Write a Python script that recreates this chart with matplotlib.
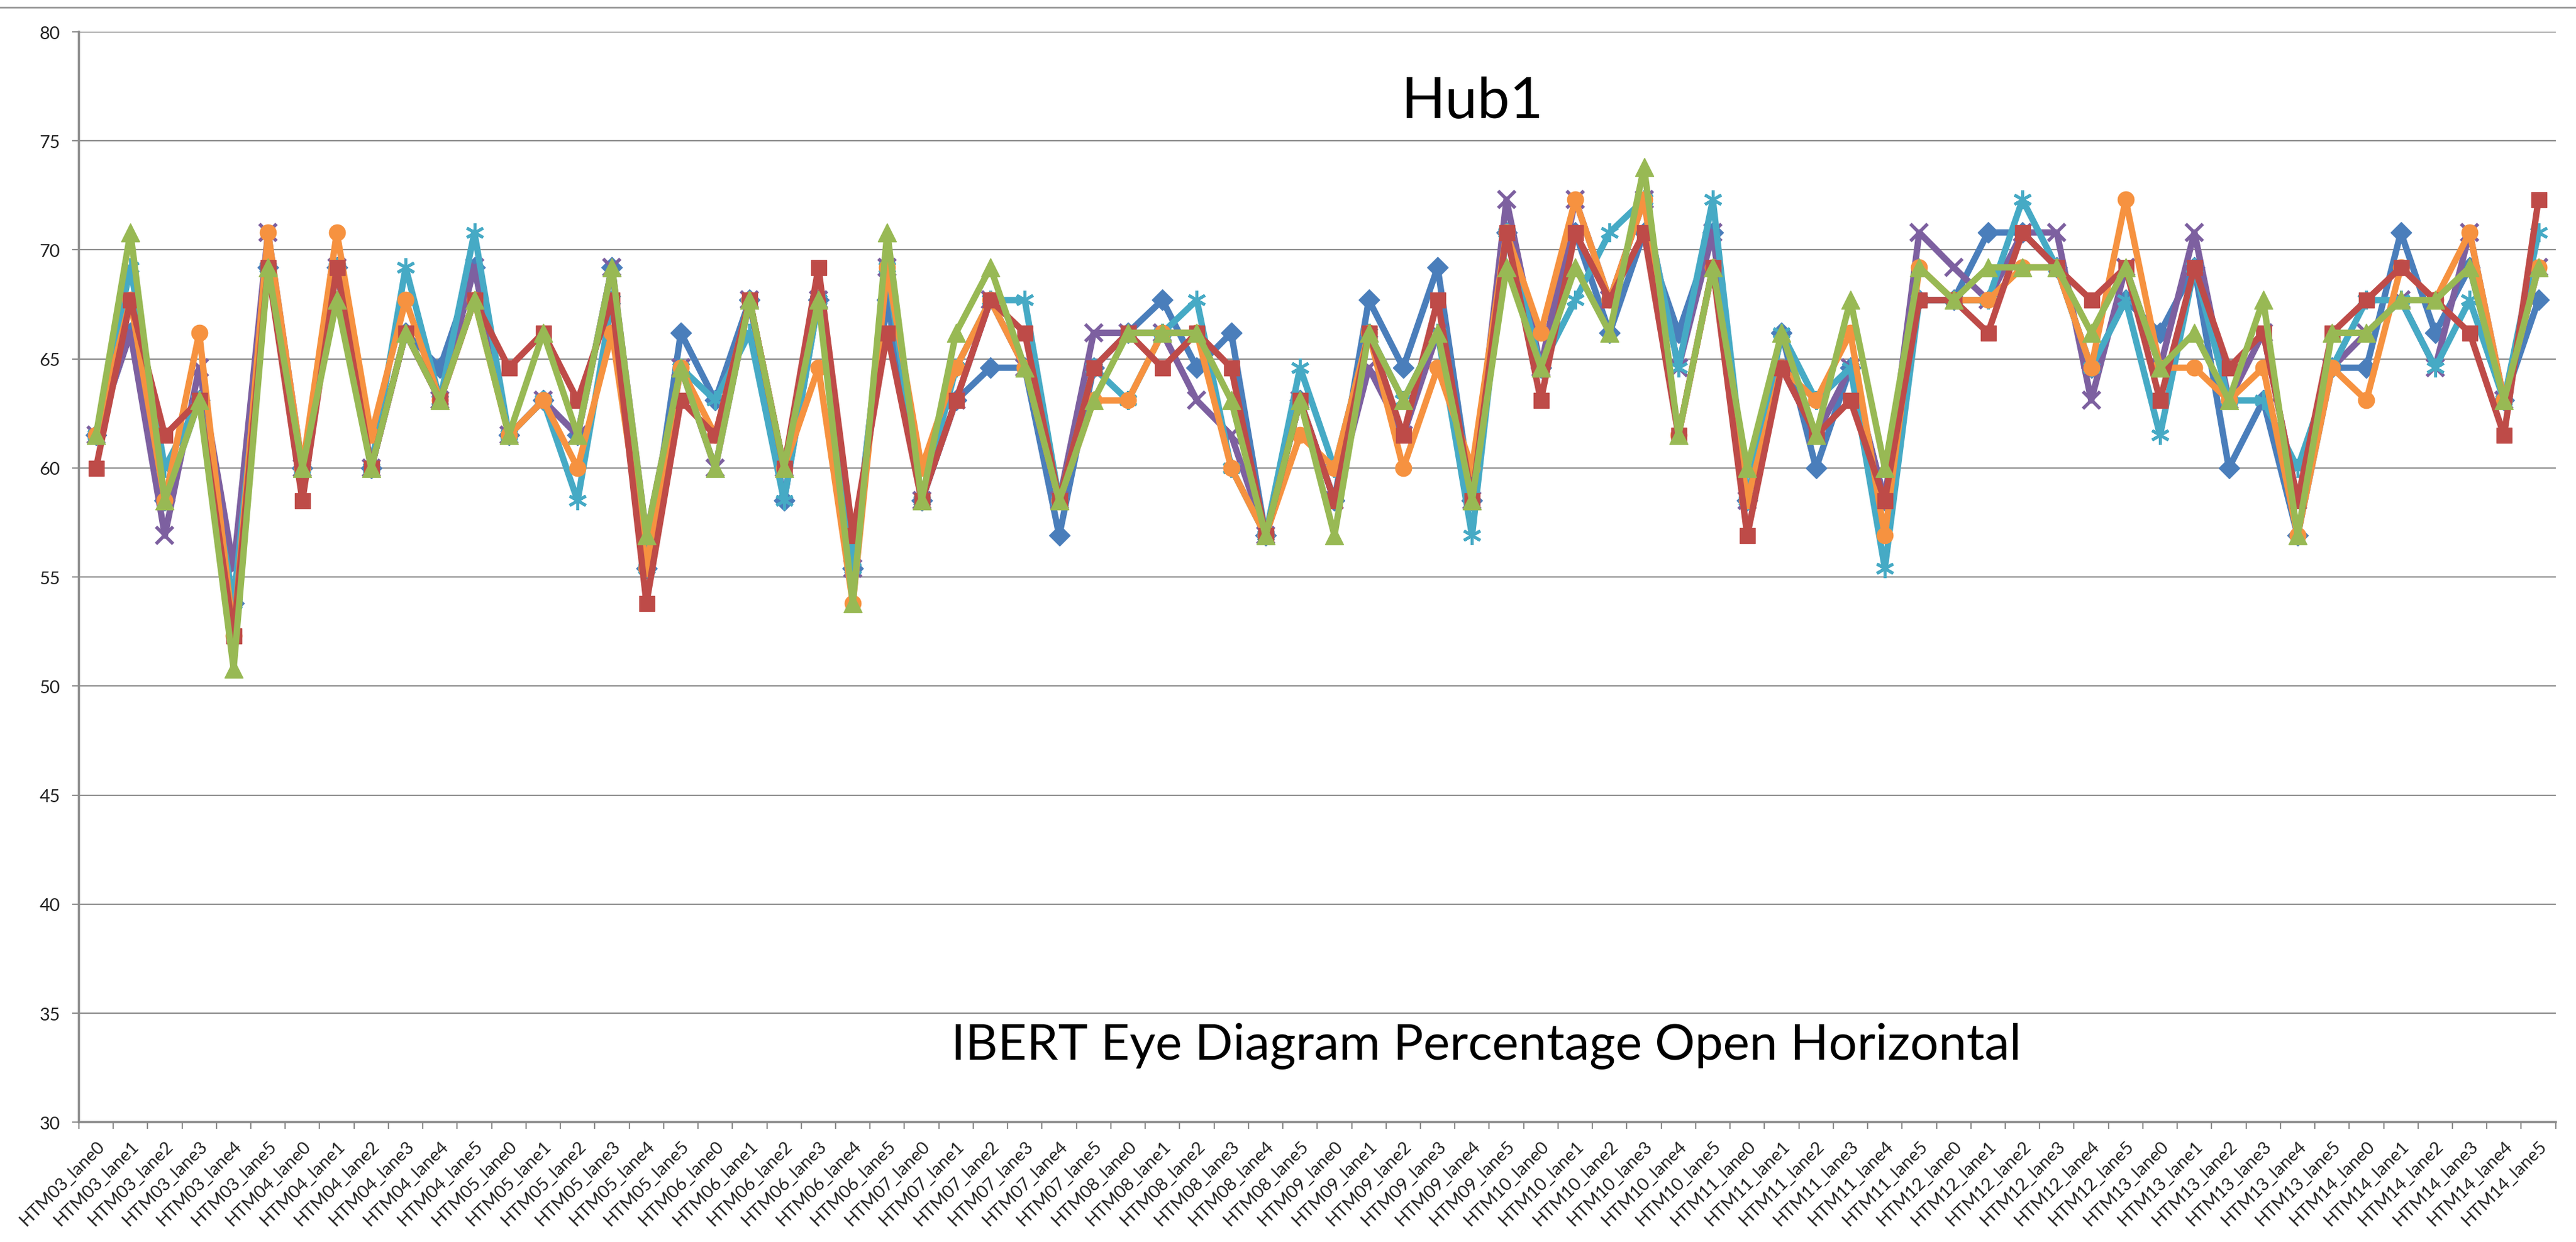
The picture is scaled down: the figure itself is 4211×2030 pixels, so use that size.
import matplotlib
matplotlib.use("Agg")
import matplotlib.pyplot as plt
from matplotlib.ticker import FixedLocator, NullFormatter

# Category labels: 12 HTM modules x 6 lanes
modules = ["HTM03", "HTM04", "HTM05", "HTM06", "HTM07", "HTM08",
           "HTM09", "HTM10", "HTM11", "HTM12", "HTM13", "HTM14"]
lanes = ["lane0", "lane1", "lane2", "lane3", "lane4", "lane5"]
categories = [m + "_" + l for m in modules for l in lanes]

# Series values (percentage open horizontal)
blue = [61.5, 66.2, 58.5, 63.1, 53.8, 69.2,
        60.0, 69.2, 60.0, 66.2, 64.6, 69.2,
        61.5, 63.1, 61.5, 69.2, 55.4, 66.2,
        63.1, 67.7, 58.5, 67.7, 55.4, 67.7,
        58.5, 63.1, 64.6, 64.6, 56.9, 64.6,
        66.2, 67.7, 64.6, 66.2, 56.9, 63.1,
        58.5, 67.7, 64.6, 69.2, 58.5, 70.8,
        64.6, 70.8, 66.2, 70.8, 66.2, 70.8,
        58.5, 66.2, 60.0, 64.6, 58.5, 67.7,
        67.7, 70.8, 70.8, 69.2, 64.6, 67.7,
        66.2, 69.2, 60.0, 63.1, 56.9, 64.6,
        64.6, 70.8, 66.2, 69.2, 63.1, 67.7]

red = [60.0, 67.7, 61.5, 63.1, 52.3, 69.2,
       58.5, 69.2, 60.0, 66.2, 63.1, 67.7,
       64.6, 66.2, 63.1, 67.7, 53.8, 63.1,
       61.5, 67.7, 60.0, 69.2, 56.9, 66.2,
       58.5, 63.1, 67.7, 66.2, 58.5, 64.6,
       66.2, 64.6, 66.2, 64.6, 56.9, 63.1,
       58.5, 66.2, 61.5, 67.7, 58.5, 70.8,
       63.1, 70.8, 67.7, 70.8, 61.5, 69.2,
       56.9, 64.6, 61.5, 63.1, 58.5, 67.7,
       67.7, 66.2, 70.8, 69.2, 67.7, 69.2,
       63.1, 69.2, 64.6, 66.2, 58.5, 66.2,
       67.7, 69.2, 67.7, 66.2, 61.5, 72.3]

green = [61.5, 70.8, 58.5, 63.1, 50.8, 69.2,
         60.0, 67.7, 60.0, 66.2, 63.1, 67.7,
         61.5, 66.2, 61.5, 69.2, 56.9, 64.6,
         60.0, 67.7, 60.0, 67.7, 53.8, 70.8,
         58.5, 66.2, 69.2, 64.6, 58.5, 63.1,
         66.2, 66.2, 66.2, 63.1, 56.9, 63.1,
         56.9, 66.2, 63.1, 66.2, 58.5, 69.2,
         64.6, 69.2, 66.2, 73.8, 61.5, 69.2,
         60.0, 66.2, 61.5, 67.7, 60.0, 69.2,
         67.7, 69.2, 69.2, 69.2, 66.2, 69.2,
         64.6, 66.2, 63.1, 67.7, 56.9, 66.2,
         66.2, 67.7, 67.7, 69.2, 63.1, 69.2]

purple = [61.5, 66.2, 56.9, 64.6, 55.4, 70.8,
          60.0, 69.2, 60.0, 66.2, 63.1, 69.2,
          61.5, 63.1, 61.5, 69.2, 56.9, 64.6,
          60.0, 67.7, 60.0, 67.7, 55.4, 69.2,
          58.5, 63.1, 67.7, 64.6, 58.5, 66.2,
          66.2, 66.2, 63.1, 61.5, 56.9, 63.1,
          58.5, 64.6, 61.5, 66.2, 58.5, 72.3,
          64.6, 72.3, 67.7, 72.3, 64.6, 70.8,
          58.5, 64.6, 61.5, 64.6, 58.5, 70.8,
          69.2, 67.7, 70.8, 70.8, 63.1, 69.2,
          64.6, 70.8, 63.1, 66.2, 58.5, 64.6,
          66.2, 67.7, 64.6, 70.8, 63.1, 69.2]

aqua = [61.5, 69.2, 60.0, 63.1, 53.8, 69.2,
        60.0, 69.2, 60.0, 69.2, 63.1, 70.8,
        61.5, 63.1, 58.5, 67.7, 55.4, 64.6,
        63.1, 66.2, 58.5, 67.7, 55.4, 69.2,
        58.5, 64.6, 67.7, 67.7, 58.5, 64.6,
        63.1, 66.2, 67.7, 60.0, 56.9, 64.6,
        60.0, 66.2, 63.1, 66.2, 56.9, 70.8,
        64.6, 67.7, 70.8, 72.3, 64.6, 72.3,
        58.5, 66.2, 63.1, 64.6, 55.4, 67.7,
        67.7, 67.7, 72.3, 69.2, 64.6, 67.7,
        61.5, 69.2, 63.1, 63.1, 60.0, 64.6,
        67.7, 67.7, 64.6, 67.7, 63.1, 70.8]

orange = [61.5, 67.7, 58.5, 66.2, 52.3, 70.8,
          60.0, 70.8, 61.5, 67.7, 63.1, 67.7,
          61.5, 63.1, 60.0, 66.2, 55.4, 64.6,
          61.5, 67.7, 60.0, 64.6, 53.8, 69.2,
          60.0, 64.6, 67.7, 64.6, 58.5, 63.1,
          63.1, 66.2, 66.2, 60.0, 56.9, 61.5,
          60.0, 66.2, 60.0, 64.6, 60.0, 70.8,
          66.2, 72.3, 67.7, 72.3, 61.5, 69.2,
          58.5, 64.6, 63.1, 66.2, 56.9, 69.2,
          67.7, 67.7, 69.2, 69.2, 64.6, 72.3,
          64.6, 64.6, 63.1, 64.6, 56.9, 64.6,
          63.1, 69.2, 67.7, 70.8, 63.1, 69.2]

font = "Lato"
plt.rcParams["font.family"] = [font, "DejaVu Sans"]

fig = plt.figure(figsize=(42.11, 20.31), dpi=100)
ax = fig.add_axes([0.0306, 0.0963, 0.9615, 0.8776])

x = list(range(len(categories)))

# drawn in this order so green ends up on top as in the original
series = [
    (blue, "#4A7EBB", "D", 17, 1.0),
    (purple, "#7D60A0", "x", 20, 4.0),
    (aqua, "#46AAC5", (6, 2, 0), 22, 3.5),
    (orange, "#F69240", "o", 19, 1.0),
    (red, "#BE4B48", "s", 18, 1.0),
    (green, "#98B954", "^", 21, 1.0),
]
for vals, col, mk, ms, mew in series:
    ax.plot(x, vals, color=col, linewidth=7.5, marker=mk, markersize=ms,
            markerfacecolor=col, markeredgecolor=col, markeredgewidth=mew,
            solid_joinstyle="round")

ax.set_xlim(-0.5, len(categories) - 0.5)
ax.set_ylim(30, 80)
ax.set_yticks(range(30, 81, 5))

ax.grid(axis="y", color="#8C8C8C", linewidth=1.6)
ax.set_axisbelow(True)

for s in ["top", "right"]:
    ax.spines[s].set_visible(False)
ax.spines["left"].set_color("#8C8C8C")
ax.spines["left"].set_linewidth(2.6)
ax.spines["bottom"].set_color("#8C8C8C")
ax.spines["bottom"].set_linewidth(2.6)

ax.set_xticks(x)
ax.set_xticklabels(categories, rotation=45, ha="right", va="top",
                   rotation_mode="anchor", fontsize=21, color="#222222")
ax.xaxis.set_minor_locator(FixedLocator([i - 0.5 for i in range(len(categories) + 1)]))
ax.xaxis.set_minor_formatter(NullFormatter())
ax.tick_params(axis="x", which="major", length=0, pad=18)
ax.tick_params(axis="x", which="minor", length=8, width=1.6, color="#8C8C8C",
               direction="out")
ax.tick_params(axis="y", length=8, width=1.6, color="#8C8C8C", direction="out",
               labelsize=21, labelcolor="#222222", pad=14)

fig.text(0.5715, 0.918, "Hub1", fontsize=68, ha="center", va="center",
         color="black")
fig.text(0.577, 0.158, "IBERT Eye Diagram Percentage Open Horizontal",
         fontsize=59, ha="center", va="center", color="black")

# thin border line across the top of the picture
fig.add_artist(plt.Line2D([0, 1], [0.9935, 0.9935], color="#9A9A9A",
                          linewidth=2, transform=fig.transFigure))

fig.savefig("out.png", dpi=100)
